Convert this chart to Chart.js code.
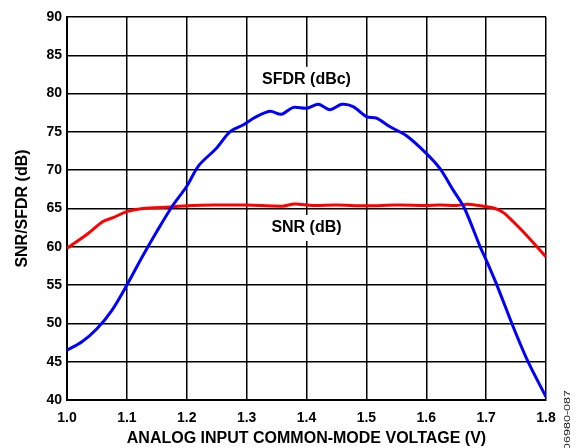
<!DOCTYPE html>
<html>
<head>
<meta charset="utf-8">
<script src="https://cdn.jsdelivr.net/npm/chart.js@4/dist/chart.umd.min.js"></script>
<style>
  body { margin: 0; background: #fff; }
  canvas { display: block; }
</style>
</head>
<body>
<canvas id="cmChart" width="582" height="448"></canvas>
<script>
// SFDR (dBc) vs common-mode voltage
const sfdrVolts = [1.00, 1.025, 1.05, 1.075, 1.10, 1.125, 1.15, 1.175, 1.20, 1.22, 1.25, 1.272, 1.294, 1.314,
  1.339, 1.358, 1.378, 1.40, 1.42, 1.439, 1.459, 1.478, 1.50, 1.517, 1.539, 1.567, 1.60, 1.623, 1.645,
  1.664, 1.69, 1.70, 1.717, 1.745, 1.77, 1.80];
const sfdrValues = [46.5, 47.6, 49.3, 51.7, 55.0, 58.6, 62.0, 65.2, 67.9, 70.6, 72.9, 75.0, 75.9, 76.9,
  77.7, 77.3, 78.2, 78.1, 78.6, 77.9, 78.6, 78.3, 77.0, 76.8, 75.7, 74.5, 72.2, 70.2, 67.4,
  65.0, 60.0, 58.3, 55.2, 49.6, 45.0, 40.4];

// SNR (dB) vs common-mode voltage
const snrVolts = [1.00, 1.033, 1.06, 1.077, 1.10, 1.127, 1.172, 1.21, 1.25, 1.30, 1.36, 1.38, 1.41, 1.45,
  1.50, 1.55, 1.60, 1.623, 1.65, 1.67, 1.695, 1.715, 1.73, 1.745, 1.767, 1.80];
const snrValues = [59.8, 61.6, 63.3, 63.8, 64.6, 65.0, 65.2, 65.4, 65.45, 65.45, 65.3, 65.6, 65.4, 65.45,
  65.35, 65.45, 65.4, 65.45, 65.4, 65.55, 65.3, 65.0, 64.4, 63.3, 61.55, 58.7];

// curve labels: [text, x, y]
const curveLabels = [
  ['SFDR (dBc)', 1.4, 81.8],
  ['SNR (dB)', 1.4, 62.45],
];

const FONT = '"Liberation Sans", Arial, sans-serif';
const toPoints = (xs, ys) => xs.map((x, i) => ({ x: x, y: ys[i] }));
const boldFont = (size) => ({ family: FONT, size: size, weight: 'bold' });

// white boxes behind curve labels, drawn over the grid but under the curves
const labelPlugin = {
  id: 'curveLabels',
  beforeDatasetsDraw(chart) {
    const { ctx, scales } = chart;
    ctx.save();
    ctx.font = 'bold 16px ' + FONT;
    ctx.textAlign = 'center';
    ctx.textBaseline = 'middle';
    curveLabels.forEach(([text, xv, yv]) => {
      const px = scales.x.getPixelForValue(xv);
      const py = scales.y.getPixelForValue(yv);
      const w = ctx.measureText(text).width + 6;
      ctx.fillStyle = '#fff';
      ctx.fillRect(px - w / 2, py - 13, w, 26);
      ctx.fillStyle = '#000';
      ctx.fillText(text, px, py);
    });
    ctx.restore();
  },
  afterDraw(chart) {
    const { ctx } = chart;
    ctx.save();
    ctx.translate(568, 420);
    ctx.rotate(-Math.PI / 2);
    ctx.scale(1.4, 1);
    ctx.font = '9px ' + FONT;
    ctx.fillStyle = '#222';
    ctx.textAlign = 'center';
    ctx.textBaseline = 'middle';
    ctx.fillText('06980-087', 0, 0);
    ctx.restore();
  },
};

const ctx = document.getElementById('cmChart').getContext('2d');

new Chart(ctx, {
  type: 'line',
  data: {
    datasets: [
      {
        label: 'SFDR (dBc)',
        data: toPoints(sfdrVolts, sfdrValues),
        borderColor: '#0000ff',
        borderWidth: 3,
        pointRadius: 0,
        tension: 0.3,
      },
      {
        label: 'SNR (dB)',
        data: toPoints(snrVolts, snrValues),
        borderColor: '#ff0000',
        borderWidth: 3,
        pointRadius: 0,
        tension: 0.3,
      },
    ],
  },
  options: {
    responsive: false,
    animation: false,
    layout: { padding: { left: 0, right: 36, top: 17, bottom: 0 } },
    plugins: { legend: { display: false }, tooltip: { enabled: false } },
    scales: {
      x: {
        type: 'linear',
        min: 1.0,
        max: 1.8,
        afterFit: (scale) => { scale.height = 48; },
        ticks: {
          stepSize: 0.1,
          color: '#000',
          font: boldFont(14),
          padding: 10,
          callback: (v) => v.toFixed(1),
        },
        grid: { color: '#000', lineWidth: 1.5, drawTicks: false },
        border: { color: '#000', width: 2 },
        title: {
          display: true,
          text: 'ANALOG INPUT COMMON-MODE VOLTAGE (V)',
          color: '#000',
          font: boldFont(16),
          padding: { top: 0, bottom: 0 },
        },
      },
      y: {
        min: 40,
        max: 90,
        afterFit: (scale) => { scale.width = 67; },
        ticks: {
          stepSize: 5,
          color: '#000',
          font: boldFont(14),
          padding: 5,
        },
        grid: { color: '#000', lineWidth: 1.5, drawTicks: false },
        border: { color: '#000', width: 2 },
        title: {
          display: true,
          text: 'SNR/SFDR (dB)',
          color: '#000',
          font: boldFont(16),
          padding: { top: 13, bottom: 0 },
        },
      },
    },
  },
  plugins: [labelPlugin],
});
</script>
</body>
</html>
